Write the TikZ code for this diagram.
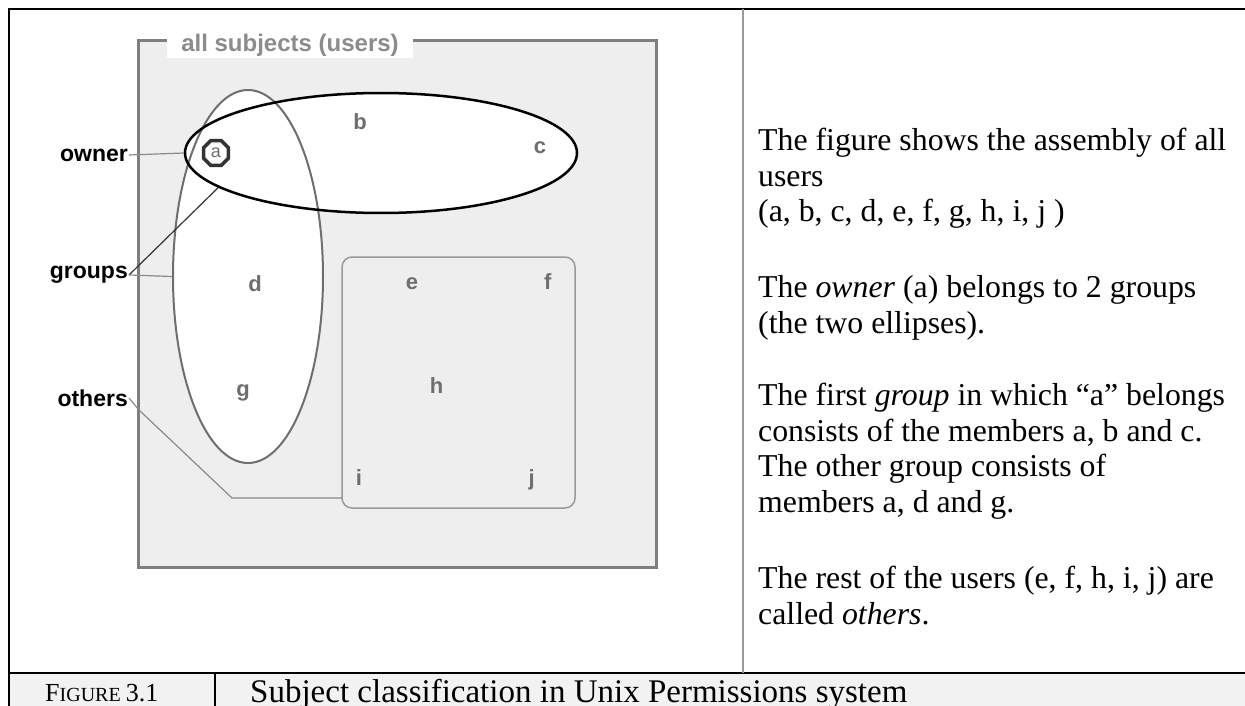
\documentclass[tikz,border=0pt]{standalone}
\usepackage{fontspec}
\setmainfont{Liberation Serif}
\setsansfont{Liberation Sans}
\usepackage{tikz}
\usetikzlibrary{shapes.geometric, positioning}

\definecolor{panelgray}{HTML}{EEEEEE}
\definecolor{framegray}{HTML}{7F7F7F}
\definecolor{titlegray}{HTML}{8C8C8C}
\definecolor{lettergray}{HTML}{6E6E6E}
\definecolor{linegray}{HTML}{8A8A8A}
\definecolor{boxgray}{HTML}{9A9A9A}
\definecolor{captiongray}{HTML}{F2F2F2}

\begin{document}
\begin{tikzpicture}[
    x=1pt, y=-1pt,
    grp/.style={ellipse, inner sep=0pt},
    member/.style={font=\sffamily\bfseries\fontsize{22}{22}\selectfont, text=lettergray, inner sep=0pt},
    sidelabel/.style={anchor=east, inner sep=1pt, font=\sffamily\bfseries\fontsize{23}{23}\selectfont},
    desc/.style={anchor=north west, align=left, inner sep=0pt, font=\fontsize{31.8}{35.5}\selectfont},
    link/.style={draw=linegray, line width=1.2pt}
]
\useasboundingbox (0,0) rectangle (1245,706);

% Table Lines
\fill[captiongray] (8.5,673) rectangle (1245,706);
\draw[line width=2pt] (1245,9) -- (8.5,9) -- (8.5,706);
\draw[line width=2.5pt] (8.5,673) -- (1245,673);
\draw[line width=1.2pt] (215,673) -- (215,706);
\draw[draw=boxgray, line width=1.5pt] (743,9) -- (743,673);

% All Subjects Frame
\draw[draw=framegray, line width=3pt, fill=panelgray] (138.5,40.5) rectangle (656,567);
\node[fill=white, text=titlegray, font=\sffamily\bfseries\fontsize{24}{24}\selectfont, minimum width=246, minimum height=25, inner sep=0pt] (allsubj) at (290,45.5) {all subjects (users)};

% Groups
\fill[white] (248,276.5) ellipse [x radius=75, y radius=186.5];
\fill[white] (381,153) ellipse [x radius=196, y radius=60];
\node[grp, draw=lettergray, line width=2pt, minimum width=150, minimum height=373] (vgroup) at (248,276.5) {};
\node[grp, draw=black, line width=2.5pt, minimum width=392, minimum height=120] (hgroup) at (381,153) {};

% Others Box
\node[draw=boxgray, line width=1.5pt, rounded corners=10pt, fill=panelgray, minimum width=233, minimum height=251, inner sep=0pt] (othersbox) at (458.5,382.5) {};

% Members
\node[regular polygon, regular polygon sides=8, draw=black!80, line width=3.5pt, minimum size=27, inner sep=0pt, text=lettergray, font=\sffamily\fontsize{18}{18}\selectfont] (a) at (216,153) {a};
\node[member] (b) at (360,121.7) {b};
\node[member] (c) at (540,147.5) {c};
\node[member] (d) at (255,283.3) {d};
\node[member] (e) at (412,284) {e};
\node[member] (f) at (547.7,281.7) {f};
\node[member] (g) at (243,392.5) {g};
\node[member] (h) at (436.7,385.8) {h};
\node[member] (i) at (359,477.5) {i};
\node[member] (j) at (531.7,480) {j};

% Side Labels
\node[sidelabel] (owner) at (129,155) {owner};
\node[sidelabel] (groups) at (129,275) {groups};
\node[sidelabel] (others) at (129,398) {others};
\coordinate (othersend) at (342,498);

\draw[link] (owner.east) -- (hgroup.west);
\draw[link, draw=black!80] (groups.east) -- (hgroup.192);
\draw[link] (groups.east) -- (vgroup.west);
\draw[link] (others.east) -- ++(10,12) -- (232,498) -- (othersend);

% Description
\node[desc] (para1) at (758,128.3) {The figure shows the assembly of all\\users\\(a, b, c, d, e, f, g, h, i, j )};
\node[desc] (para2) at (758,275.3) {The \textit{owner} (a) belongs to 2 groups\\(the two ellipses).};
\node[desc] (para3) at (758,383.3) {The first \textit{group} in which “a” belongs\\consists of the members a, b and c.\\The other group consists of\\members a, d and g.};
\node[desc] (para4) at (758,566.3) {The rest of the users (e, f, h, i, j) are\\called \textit{others}.};

% Caption
\node[anchor=base west, inner sep=0pt] (fignum) at (45,701) {\fontsize{26}{26}\selectfont F\fontsize{20}{20}\selectfont IGURE \fontsize{26}{26}\selectfont 3.1};
\node[anchor=base west, inner sep=0pt, font=\fontsize{33}{33}\selectfont] (figcap) at (250,702) {Subject classification in Unix Permissions system};

\end{tikzpicture}
\end{document}
